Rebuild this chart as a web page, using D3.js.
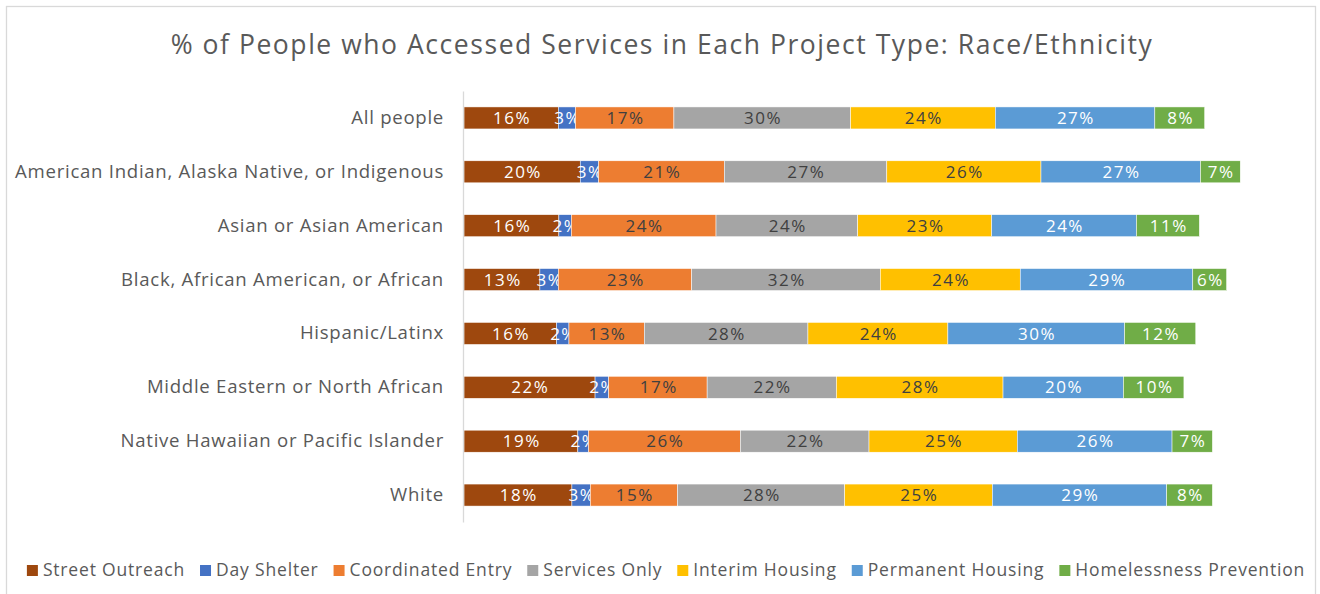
<!DOCTYPE html>
<html>
<head>
<meta charset="utf-8">
<script src="https://cdn.jsdelivr.net/npm/d3@7"></script>
<style>
  body { margin: 0; background: #fff; }
  text { font-family: "Open Sans", "Noto Sans", sans-serif; }
</style>
</head>
<body>
<svg id="chart" width="1320" height="594"></svg>
<script>
// groups shown on the y axis
const categories = ["All people",
                    "American Indian, Alaska Native, or Indigenous",
                    "Asian or Asian American",
                    "Black, African American, or African",
                    "Hispanic/Latinx",
                    "Middle Eastern or North African",
                    "Native Hawaiian or Pacific Islander",
                    "White"]

const projectTypes = ["Street Outreach", "Day Shelter", "Coordinated Entry", "Services Only",
                      "Interim Housing", "Permanent Housing", "Homelessness Prevention"]

// one array per project type, same order as categories (percent)
const streetOutreach  = [15.9, 19.6, 16.0, 12.8, 15.6, 22.1, 19.2, 18.2]
const dayShelter      = [2.9, 3.1, 2.1, 3.1, 2.1, 2.3, 1.8, 3.1]
const coordinatedEntry= [16.6, 21.2, 24.4, 22.5, 12.7, 16.6, 25.6, 14.7]
const servicesOnly    = [29.8, 27.4, 23.9, 31.8, 27.6, 21.8, 21.7, 28.2]
const interimHousing  = [24.4, 26.0, 22.6, 23.6, 23.6, 28.1, 25.0, 24.9]
const permanentHousing= [26.9, 26.9, 24.4, 29.1, 29.8, 20.3, 26.1, 29.4]
const prevention      = [8.4, 6.7, 10.6, 5.7, 12.0, 10.2, 6.8, 7.7]

const seriesValues = [streetOutreach, dayShelter, coordinatedEntry, servicesOnly,
                      interimHousing, permanentHousing, prevention]

const colors = ["#9E480E", "#4472C4", "#ED7D31", "#A5A5A5", "#FFC000", "#5B9BD5", "#70AD47"]
const labelColors = ["#fff", "#fff", "#404040", "#404040", "#404040", "#fff", "#fff"]

// build rows for d3.stack
const table = categories.map(function (c, i) {
    let row = {category: c}
    projectTypes.forEach(function (p, j) { row[p] = seriesValues[j][i] })
    return row
})
const stacked = d3.stack().keys(projectTypes)(table)

const svg = d3.select("#chart")

// outer frame
svg.append("rect")
    .attr("x", 6.5).attr("y", 6.5)
    .attr("width", 1309).attr("height", 600)
    .attr("fill", "none").attr("stroke", "#d9d9d9").attr("stroke-width", 1.3)

// Title
svg.append("text")
    .attr("x", 662).attr("y", 53.5)
    .attr("text-anchor", "middle")
    .attr("font-size", 26.5)
    .attr("letter-spacing", 1.55)
    .attr("fill", "#595959")
    .text("% of People who Accessed Services in Each Project Type: Race/Ethnicity")

let xScale = d3.scaleLinear().domain([0, 100]).range([464, 1057])
let yScale = d3.scaleBand().domain(categories).range([91, 522]).padding(0)
const barH = 22

// bars
let layers = svg.selectAll(".layer")
    .data(stacked)
    .enter()
    .append("g")
    .attr("class", "layer")
    .attr("fill", function (d, i) { return colors[i] })

layers.selectAll("rect")
    .data(function (d) { return d })
    .enter()
    .append("rect")
    .attr("x", function (d) { return xScale(d[0]) })
    .attr("y", function (d) { return yScale(d.data.category) + (yScale.bandwidth() - barH) / 2 })
    .attr("width", function (d) { return xScale(d[1]) - xScale(d[0]) })
    .attr("height", barH)
    .attr("stroke", "#fff")
    .attr("stroke-width", 0.5)

// data labels
layers.each(function (s, i) {
    d3.select(this).selectAll("text")
        .data(s)
        .enter()
        .append("text")
        .attr("x", function (d) { return (xScale(d[0]) + xScale(d[1])) / 2 + 0.8 })
        .attr("y", function (d) { return yScale(d.data.category) + yScale.bandwidth() / 2 })
        .attr("dy", "0.36em")
        .attr("text-anchor", "middle")
        .attr("font-size", 17)
        .attr("letter-spacing", 1.5)
        .attr("fill", labelColors[i])
        .text(function (d) { return Math.round(d[1] - d[0]) + "%" })
})

// Y Axis
let y_axis = d3.axisLeft(yScale).tickSize(0).tickPadding(19)
let yg = svg.append("g")
    .attr("transform", `translate(${463},${0})`)
    .call(y_axis)
yg.select(".domain").attr("stroke", "#d9d9d9").attr("stroke-width", 1.3)
yg.selectAll("text")
    .attr("font-size", 18.6)
    .attr("letter-spacing", 0.72)
    .attr("fill", "#595959")
    .attr("font-family", "Open Sans, Noto Sans, sans-serif")

// legend
let legend = svg.append("g")
let lx = 0
projectTypes.forEach(function (p, i) {
    let lgnd = legend.append("g").attr("transform", `translate(${lx},0)`)
    lgnd.append("rect").attr("x", 0).attr("y", -11)
        .attr("width", 11).attr("height", 11).attr("fill", colors[i])
    let t = lgnd.append("text").attr("x", 16).attr("y", 0)
        .attr("font-size", 17.5).attr("letter-spacing", 0.82)
        .attr("fill", "#595959").text(p)
    lx += 16 + t.node().getComputedTextLength() + 15
})
lx -= 15
legend.attr("transform", `translate(${666 - lx / 2},${576})`)
</script>
</body>
</html>
